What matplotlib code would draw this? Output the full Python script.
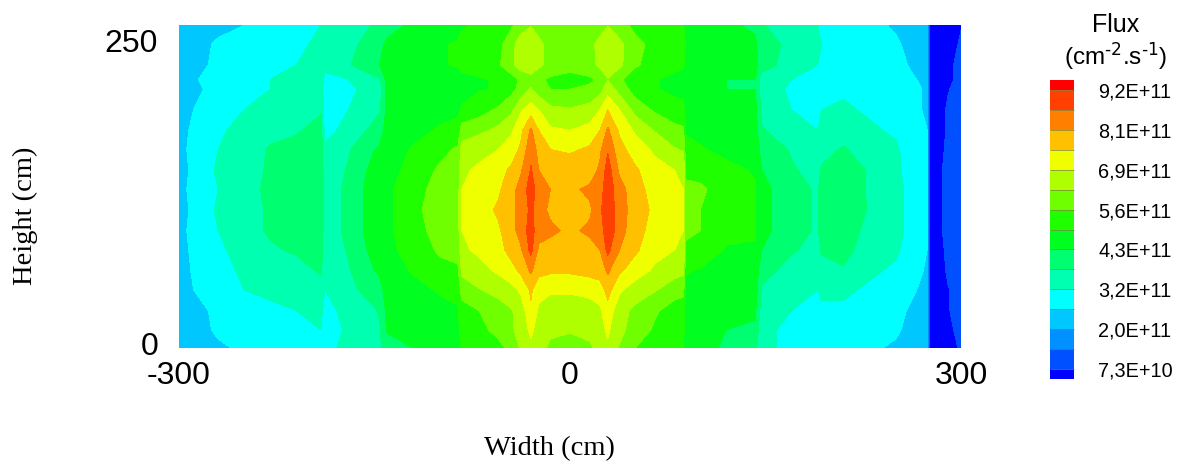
import numpy as np
import matplotlib
matplotlib.use('Agg')
import matplotlib.pyplot as plt
from matplotlib.colors import ListedColormap, BoundaryNorm

plt.rcParams['font.family'] = ['Liberation Sans', 'DejaVu Sans']
plt.rcParams['mathtext.default'] = 'regular'
plt.rcParams['axes.unicode_minus'] = False

# flux, in 1E+11 cm-2.s-1
heights = [263, 247, 230, 218, 210, 193, 176, 160, 143, 127, 110, 93, 77, 60, 44, 27, 11, -4]
widths = [-300, -285, -270, -250, -230, -210, -191, -188, -170, -150, -146, -140, -120, -100,
          -86, -83, -70, -55, -45, -38, -30, -24, -15, 0, 15, 23, 29, 38, 50, 65, 80, 87, 89,
          100, 120, 142, 147, 170, 190, 193, 210, 230, 250, 262, 274, 276, 285, 290, 300]
flux = [
    [2.1, 2.2, 2.2, 2.3, 2.3, 2.3, 2.4, 2.4, 2.4, 2.4, 2.4, 2.4, 2.4, 2.3, 2.3, 2.2, 2.2, 2.0],
    [2.2, 2.4, 2.4, 2.6, 2.5, 2.7, 2.8, 2.9, 2.8, 2.9, 2.8, 2.9, 2.8, 2.8, 2.7, 2.4, 2.4, 2.3],
    [2.4, 2.7, 2.8, 2.9, 2.9, 3.0, 3.1, 3.2, 3.3, 3.2, 3.3, 3.2, 3.1, 3.0, 3.0, 2.8, 2.7, 2.5],
    [2.6, 2.9, 3.0, 3.1, 3.1, 3.2, 3.4, 3.5, 3.6, 3.5, 3.6, 3.6, 3.4, 3.3, 3.2, 3.0, 2.9, 2.7],
    [2.8, 3.0, 3.1, 3.2, 3.2, 3.3, 3.6, 3.8, 3.8, 3.9, 3.8, 3.8, 3.7, 3.5, 3.3, 3.1, 3.0, 2.8],
    [3.0, 3.1, 3.2, 3.3, 3.3, 3.5, 3.7, 3.9, 4.0, 4.1, 4.0, 4.0, 3.8, 3.6, 3.4, 3.2, 3.1, 3.0],
    [3.2, 3.3, 3.4, 3.5, 3.5, 3.7, 3.9, 4.0, 4.1, 4.2, 4.1, 4.1, 4.0, 3.8, 3.6, 3.3, 3.2, 3.1],
    [3.2, 3.3, 3.4, 3.0, 2.8, 2.9, 3.0, 3.3, 3.4, 3.4, 3.4, 3.4, 3.4, 3.4, 3.2, 3.0, 2.9, 3.1],
    [3.4, 3.6, 3.7, 3.2, 3.1, 3.2, 3.4, 3.7, 3.8, 3.9, 3.9, 3.9, 3.8, 3.7, 3.6, 3.4, 3.3, 3.3],
    [3.8, 4.0, 4.2, 3.6, 3.4, 3.6, 3.9, 4.3, 4.5, 4.6, 4.6, 4.6, 4.5, 4.3, 4.0, 3.7, 3.6, 3.6],
    [3.9, 4.2, 4.3, 3.7, 3.5, 3.7, 4.0, 4.4, 4.6, 4.6, 4.7, 4.6, 4.5, 4.4, 4.1, 3.8, 3.7, 3.7],
    [4.1, 4.4, 4.6, 4.5, 4.5, 4.5, 4.6, 4.7, 4.7, 4.8, 4.8, 4.8, 4.8, 4.7, 4.6, 4.5, 4.4, 3.9],
    [4.4, 4.6, 4.7, 4.6, 4.6, 4.7, 4.8, 5.0, 5.2, 5.4, 5.5, 5.4, 5.2, 5.0, 4.8, 4.7, 4.6, 4.3],
    [4.7, 4.9, 4.9, 4.7, 4.7, 4.8, 5.0, 5.4, 5.7, 5.8, 5.8, 5.8, 5.7, 5.4, 5.0, 4.8, 4.7, 4.5],
    [4.8, 5.0, 5.0, 4.7, 4.7, 4.8, 5.2, 5.7, 5.9, 6.0, 6.0, 6.0, 5.8, 5.5, 5.1, 4.9, 4.8, 4.7],
    [4.9, 5.1, 5.1, 4.8, 4.8, 5.0, 5.9, 6.5, 6.8, 6.9, 7.0, 6.9, 6.8, 6.4, 5.9, 5.3, 5.2, 5.0],
    [5.0, 5.2, 5.2, 4.9, 4.9, 5.3, 6.1, 6.7, 7.0, 7.1, 7.2, 7.1, 7.0, 6.7, 6.2, 5.6, 5.4, 5.1],
    [5.2, 5.4, 5.5, 5.0, 5.0, 5.7, 6.4, 6.9, 7.3, 7.4, 7.6, 7.4, 7.3, 7.0, 6.5, 5.9, 5.8, 5.4],
    [5.5, 6.0, 6.1, 5.3, 5.4, 6.1, 6.8, 7.2, 7.6, 7.9, 8.0, 7.9, 7.7, 7.3, 6.7, 6.2, 6.1, 5.8],
    [5.9, 6.6, 6.6, 5.7, 5.8, 6.8, 7.3, 7.6, 8.0, 8.3, 8.2, 8.3, 8.0, 7.6, 7.0, 6.5, 6.6, 6.3],
    [6.2, 6.7, 6.7, 6.0, 6.3, 7.2, 8.2, 8.5, 8.7, 8.9, 8.8, 8.9, 8.8, 8.2, 7.6, 7.4, 7.0, 6.8],
    [6.0, 6.4, 6.4, 5.7, 5.9, 6.9, 7.5, 7.9, 8.1, 8.4, 8.3, 8.3, 8.0, 7.7, 7.1, 6.8, 6.7, 6.5],
    [5.6, 6.0, 6.0, 5.5, 5.6, 6.4, 7.0, 7.5, 7.8, 8.1, 8.0, 8.2, 7.9, 7.6, 7.0, 6.5, 6.4, 6.1],
    [5.6, 5.9, 5.8, 5.4, 5.6, 6.3, 6.9, 7.4, 7.9, 8.0, 8.1, 8.0, 7.8, 7.6, 7.0, 6.5, 6.3, 6.0],
    [5.6, 6.0, 6.0, 5.5, 5.7, 6.5, 7.1, 7.6, 7.8, 8.2, 8.0, 8.2, 7.9, 7.7, 7.1, 6.6, 6.5, 6.1],
    [5.9, 6.5, 6.4, 5.7, 6.0, 6.9, 7.5, 8.0, 8.2, 8.4, 8.5, 8.3, 8.1, 7.8, 7.2, 6.8, 6.7, 6.5],
    [6.2, 6.8, 6.8, 6.2, 6.6, 7.5, 8.2, 8.6, 8.9, 9.0, 9.2, 9.1, 8.8, 8.2, 7.7, 7.3, 7.0, 6.8],
    [5.9, 6.4, 6.4, 5.7, 6.0, 6.9, 7.4, 7.7, 8.0, 8.3, 8.2, 8.3, 8.1, 7.6, 7.0, 6.5, 6.4, 6.2],
    [5.4, 5.8, 5.7, 5.2, 5.3, 6.0, 6.8, 7.2, 7.6, 7.8, 8.0, 7.8, 7.6, 7.2, 6.6, 6.1, 6.0, 5.6],
    [5.2, 5.4, 5.3, 5.0, 5.0, 5.5, 6.2, 6.8, 7.1, 7.2, 7.3, 7.2, 7.1, 6.8, 6.3, 5.7, 5.5, 5.3],
    [5.0, 5.1, 5.1, 4.8, 4.8, 5.2, 5.8, 6.3, 6.9, 7.0, 7.1, 7.0, 6.9, 6.5, 5.9, 5.3, 5.2, 5.0],
    [5.0, 5.1, 5.0, 4.8, 4.8, 5.1, 5.7, 6.2, 6.8, 6.9, 7.0, 6.9, 6.8, 6.4, 5.8, 5.2, 5.1, 5.0],
    [4.7, 4.9, 4.8, 4.6, 4.6, 4.7, 4.9, 5.1, 5.5, 5.7, 5.7, 5.7, 5.5, 5.0, 4.8, 4.7, 4.6, 4.5],
    [4.6, 4.8, 4.7, 4.5, 4.5, 4.6, 4.8, 5.0, 5.4, 5.7, 5.6, 5.6, 5.3, 4.9, 4.7, 4.6, 4.5, 4.5],
    [4.4, 4.6, 4.6, 4.3, 4.3, 4.5, 4.7, 4.8, 5.1, 5.3, 5.3, 5.1, 4.9, 4.7, 4.6, 4.4, 4.3, 4.2],
    [4.2, 4.4, 4.5, 4.3, 4.3, 4.5, 4.6, 4.7, 4.9, 5.0, 5.0, 5.0, 4.9, 4.7, 4.6, 4.4, 4.2, 3.9],
    [3.8, 4.0, 4.0, 3.5, 3.5, 3.6, 3.8, 4.1, 4.3, 4.5, 4.5, 4.5, 4.3, 3.9, 3.7, 3.5, 3.3, 3.3],
    [3.4, 3.6, 3.5, 3.2, 3.1, 3.2, 3.4, 3.7, 3.8, 3.9, 3.9, 3.9, 3.8, 3.6, 3.4, 3.2, 3.1, 3.1],
    [3.2, 3.3, 3.2, 3.0, 2.9, 3.0, 3.2, 3.4, 3.6, 3.7, 3.7, 3.7, 3.6, 3.4, 3.2, 3.0, 2.9, 3.0],
    [3.1, 3.2, 3.2, 3.1, 3.0, 3.2, 3.4, 3.6, 3.8, 3.9, 3.9, 3.9, 3.8, 3.6, 3.3, 3.1, 3.0, 3.0],
    [3.0, 3.1, 3.1, 3.1, 3.1, 3.3, 3.5, 3.8, 4.0, 4.0, 4.1, 4.0, 3.9, 3.7, 3.3, 3.1, 3.0, 2.9],
    [2.8, 3.0, 3.0, 3.0, 3.0, 3.1, 3.3, 3.5, 3.7, 3.7, 3.7, 3.6, 3.5, 3.3, 3.1, 3.0, 2.8, 2.7],
    [2.5, 2.7, 2.9, 2.9, 3.0, 3.0, 3.1, 3.3, 3.3, 3.4, 3.4, 3.4, 3.3, 3.1, 3.0, 2.8, 2.7, 2.5],
    [2.3, 2.4, 2.5, 2.7, 2.8, 2.8, 2.9, 2.9, 3.0, 3.0, 3.0, 3.0, 2.9, 2.9, 2.7, 2.5, 2.4, 2.3],
    [2.3, 2.3, 2.4, 2.4, 2.5, 2.5, 2.6, 2.7, 2.7, 2.7, 2.7, 2.7, 2.6, 2.5, 2.4, 2.3, 2.3, 2.2],
    [0.4, 0.4, 0.4, 0.4, 0.4, 0.4, 0.5, 0.5, 0.5, 0.5, 0.5, 0.5, 0.5, 0.4, 0.4, 0.4, 0.4, 0.4],
    [0.5, 0.5, 0.5, 0.5, 0.5, 0.6, 0.6, 0.6, 0.7, 0.7, 0.7, 0.7, 0.6, 0.6, 0.6, 0.5, 0.5, 0.5],
    [0.5, 0.5, 0.6, 0.6, 0.7, 0.8, 0.8, 0.9, 0.9, 1.0, 1.0, 0.9, 0.9, 0.8, 0.7, 0.7, 0.6, 0.5],
    [0.7, 0.8, 0.9, 0.9, 0.9, 0.9, 0.9, 1.0, 1.0, 1.0, 1.0, 1.0, 1.0, 0.9, 0.9, 0.9, 0.9, 0.8],
]

levels = [0.73, 1.36, 2.0, 2.6, 3.2, 3.75, 4.3, 4.95, 5.6, 6.25, 6.9, 7.5, 8.1, 8.65, 9.2]
band_colors = ['#0000ff', '#0050ff', '#0090ff', '#00c8ff', '#00ffff', '#00ffb0', '#00ff70', '#00ff20',
               '#20ff00', '#70ff00', '#b0ff00', '#f0ff00', '#ffc000', '#ff8000', '#ff4000', '#ff0000']
bar_labels = ['7,3E+10', '2,0E+11', '3,2E+11', '4,3E+11', '5,6E+11', '6,9E+11', '8,1E+11', '9,2E+11']

W, H = 1181, 463
fig = plt.figure(figsize=(W / 100, H / 100), dpi=100)
ax = fig.add_axes([179 / W, 1 - 348 / H, (961 - 179) / W, (348 - 25) / H])

cmap = ListedColormap(band_colors[1:-1])
cmap.set_under(band_colors[0])
cmap.set_over(band_colors[-1])
norm = BoundaryNorm(levels, cmap.N)

z = np.array(flux).T
cs = ax.contourf(widths, heights, z, levels=levels, cmap=cmap, norm=norm, extend='both')

ax.set_xlim(-300, 300)
ax.set_ylim(-4, 263)
ax.set_xticks([-300, 0, 300])
ax.set_yticks([0, 250])
ax.tick_params(length=0, labelsize=23)
ax.tick_params(axis='x', pad=9)
ax.tick_params(axis='y', pad=15)
for s in ax.spines.values():
    s.set_visible(False)

fig.text(549 / W, 1 - 449 / H, 'Width (cm)', family='Liberation Serif', fontsize=20.5, ha='center', va='center')
fig.text(25 / W, 1 - 216 / H, 'Height (cm)', family='Liberation Serif', fontsize=20.5, rotation=90,
         ha='center', va='center')

cax = fig.add_axes([1050 / W, 1 - 379 / H, 24 / W, 299 / H])
cb = fig.colorbar(cs, cax=cax, extendrect=True, extendfrac=0.5 / 14, spacing='uniform', drawedges=True)
cb.set_ticks(levels[::2], labels=bar_labels)
cb.ax.minorticks_off()
cb.ax.tick_params(which='both', length=0, labelsize=14.3, pad=17.5)
cb.outline.set_visible(False)
cb.dividers.set_color('#808040')
cb.dividers.set_linewidth(0.5)

fig.text(1116 / W, 1 - 25 / H, 'Flux', fontsize=18, ha='center', va='center')
fig.text(1116 / W, 1 - 56 / H, r'(cm$^{\text{-2}}$.s$^{\text{-1}}$)', fontsize=17.5, ha='center', va='center')

fig.savefig('out.png', dpi=100)
